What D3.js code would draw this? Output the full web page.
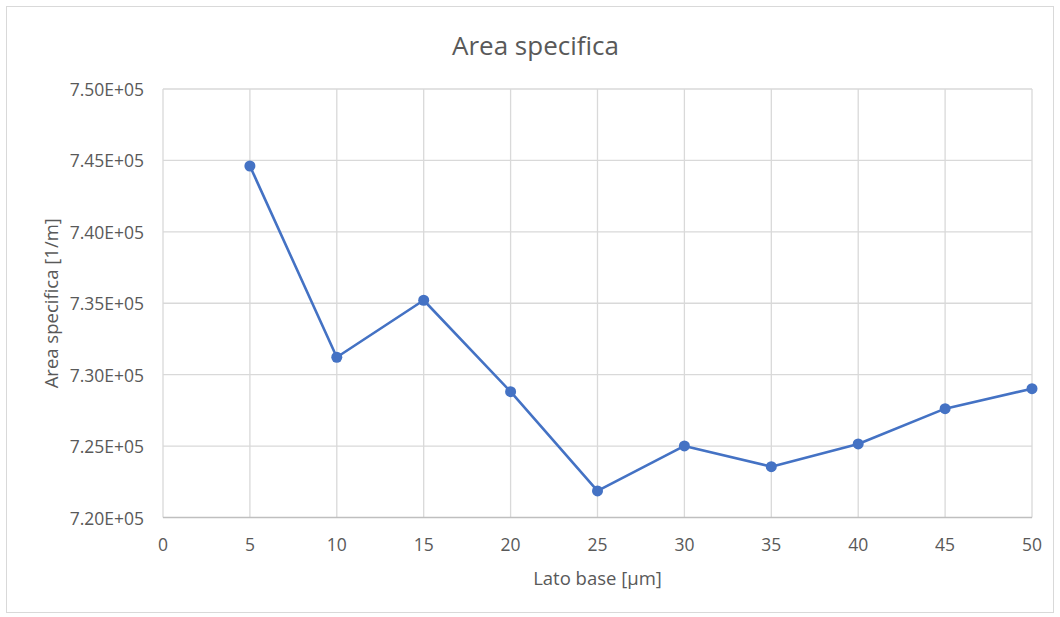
<!DOCTYPE html>
<html>
<head>
<meta charset="utf-8">
<script src="https://cdn.jsdelivr.net/npm/d3@7"></script>
<style>
  html, body { margin: 0; padding: 0; background: #fff; }
  svg { display: block; }
  text { font-family: "Open Sans", "Noto Sans", sans-serif; fill: #595959; }
</style>
</head>
<body>
<svg id="chart" width="1060" height="617"></svg>
<script>
// Side length of the base (µm) and the resulting specific area (1/m)
const latoBase = [5, 10, 15, 20, 25, 30, 35, 40, 45, 50];
const areaSpecifica = [744610, 731220, 735210, 728810, 721860, 725010, 723560, 725150, 727620, 729020];
const xTicks = [0, 5, 10, 15, 20, 25, 30, 35, 40, 45, 50];
const yTicks = [720000, 725000, 730000, 735000, 740000, 745000, 750000];

const svg = d3.select("#chart");
const W = 1060, H = 617;
const plot = { left: 163, right: 1032, top: 89, bottom: 517.5 };

// chart frame
svg.append("rect")
  .attr("x", 6.5).attr("y", 6.5)
  .attr("width", W - 13).attr("height", H - 11)
  .attr("fill", "#fff").attr("stroke", "#d9d9d9").attr("stroke-width", 1);

const x = d3.scaleLinear().domain([0, 50]).range([plot.left, plot.right]);
const y = d3.scaleLinear().domain([720000, 750000]).range([plot.bottom, plot.top]);

const fmt = v => {
  const e = v.toExponential(2).toUpperCase();   // e.g. 7.50E+5
  return e.replace(/E([+-])(\d)$/, "E$10$2");
};

// horizontal gridlines
svg.append("g").selectAll("line").data(yTicks.slice(1)).join("line")
  .attr("x1", plot.left).attr("x2", plot.right)
  .attr("y1", d => y(d)).attr("y2", d => y(d))
  .attr("stroke", "#d9d9d9").attr("stroke-width", 1.3);

// vertical gridlines
svg.append("g").selectAll("line").data(xTicks).join("line")
  .attr("x1", d => x(d)).attr("x2", d => x(d))
  .attr("y1", plot.top).attr("y2", plot.bottom)
  .attr("stroke", "#d9d9d9").attr("stroke-width", 1.3);

// x axis baseline
svg.append("line")
  .attr("x1", plot.left).attr("x2", plot.right)
  .attr("y1", plot.bottom).attr("y2", plot.bottom)
  .attr("stroke", "#bfbfbf").attr("stroke-width", 1.3);

// y tick labels
svg.append("g").selectAll("text").data(yTicks).join("text")
  .attr("x", 144).attr("y", d => y(d))
  .attr("text-anchor", "end").attr("dominant-baseline", "central")
  .attr("font-size", 17.5)
  .text(fmt);

// x tick labels
svg.append("g").selectAll("text").data(xTicks).join("text")
  .attr("x", d => x(d)).attr("y", 544)
  .attr("text-anchor", "middle").attr("dominant-baseline", "central")
  .attr("font-size", 17.5)
  .text(d => d);

// title
svg.append("text")
  .attr("x", (plot.left + plot.right) / 2 - 62).attr("y", 45)
  .attr("text-anchor", "middle").attr("dominant-baseline", "central")
  .attr("font-size", 26)
  .text("Area specifica");

// axis titles
svg.append("text")
  .attr("x", (plot.left + plot.right) / 2).attr("y", 577)
  .attr("text-anchor", "middle").attr("dominant-baseline", "central")
  .attr("font-size", 18.5)
  .text("Lato base [µm]");

svg.append("text")
  .attr("transform", `translate(50,${(plot.top + plot.bottom) / 2}) rotate(-90)`)
  .attr("text-anchor", "middle").attr("dominant-baseline", "central")
  .attr("font-size", 18.5)
  .text("Area specifica [1/m]");

// series
const pts = latoBase.map((d, i) => [d, areaSpecifica[i]]);
svg.append("path")
  .datum(pts)
  .attr("fill", "none").attr("stroke", "#4472c4").attr("stroke-width", 2.6)
  .attr("stroke-linejoin", "round")
  .attr("d", d3.line().x(d => x(d[0])).y(d => y(d[1])));

svg.append("g").selectAll("circle").data(pts).join("circle")
  .attr("cx", d => x(d[0])).attr("cy", d => y(d[1]))
  .attr("r", 5.5).attr("fill", "#4472c4");
</script>
</body>
</html>
